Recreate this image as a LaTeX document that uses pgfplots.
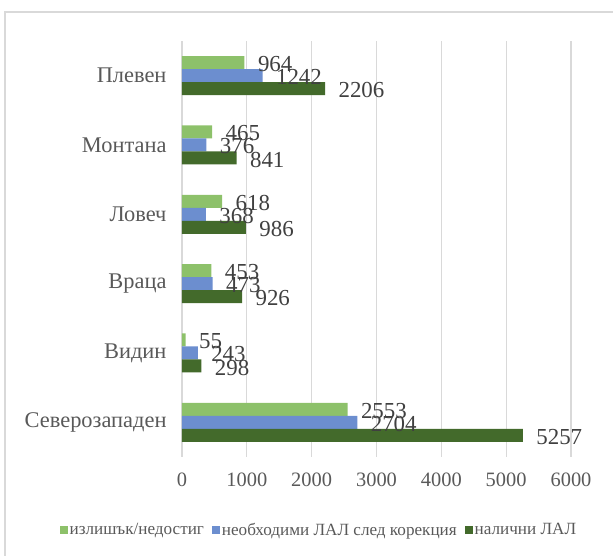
\documentclass[border=0pt]{standalone}
\usepackage{fontspec}
\setmainfont{Liberation Serif}
\usepackage{pgfplots}
\pgfplotsset{compat=1.18}
\definecolor{lg}{HTML}{8DC16A}
\definecolor{bl}{HTML}{6C8ECF}
\definecolor{dg}{HTML}{436A2B}
\definecolor{gridc}{HTML}{D9D9D9}
\definecolor{framec}{HTML}{D9D9D9}
\definecolor{txt}{HTML}{595959}
\definecolor{lbl}{HTML}{404040}
\begin{document}
\begin{tikzpicture}[x=1bp,y=1bp]
\path[use as bounding box] (-182,-99) rectangle (431,457);
\draw[color=framec, line width=1.5bp] (-177,-110) -- (-177,445) -- (450,445);
\begin{axis}[
  at={(0,0)}, anchor=south west,
  scale only axis, width=389bp, height=416bp,
  xmin=0, xmax=6000, ymin=-0.5, ymax=5.5,
  enlargelimits=false,
  xbar, bar width=13bp,
  xtick={0,1000,...,6000},
  ytick={0,1,2,3,4,5},
  yticklabels={Северозападен,Видин,Враца,Ловеч,Монтана,Плевен},
  xmajorgrids,
  grid style={gridc, line width=1.3bp},
  axis line style={draw=none},
  major tick length=0pt,
  /pgf/number format/assume math mode=true,
  /pgf/number format/1000 sep={},
  xticklabel style={font=\fontsize{20.5}{24}\selectfont, text=txt, yshift=-12bp},
  yticklabel style={font=\fontsize{22.5}{26}\selectfont, text=txt, xshift=-12bp},
  nodes near coords,
  nodes near coords style={font=\fontsize{23}{26}\selectfont, text=lbl, anchor=west, xshift=10bp, yshift=-1.5bp},
  legend columns=3,
  legend style={draw=none, fill=none, at={(0.352,-0.175)}, anchor=center,
    font=\fontsize{17.2}{20}\selectfont, text=txt, inner sep=0pt,
    /tikz/every odd column/.append style={column sep=0bp},
    /tikz/every even column/.append style={column sep=6bp}},
  legend image code/.code={\fill[#1] (0bp,-4bp) rectangle (8bp,4bp);},
]
\addplot[fill=lg, draw=none, bar shift=13bp] coordinates {(2553,0) (55,1) (453,2) (618,3) (465,4) (964,5)};
\addlegendentry{излишък/недостиг}
\addplot[fill=bl, draw=none, bar shift=0bp] coordinates {(2704,0) (243,1) (473,2) (368,3) (376,4) (1242,5)};
\addlegendentry{необходими ЛАЛ след корекция}
\addplot[fill=dg, draw=none, bar shift=-13bp] coordinates {(5257,0) (298,1) (926,2) (986,3) (841,4) (2206,5)};
\addlegendentry{налични ЛАЛ}
\end{axis}
\end{tikzpicture}
\end{document}
